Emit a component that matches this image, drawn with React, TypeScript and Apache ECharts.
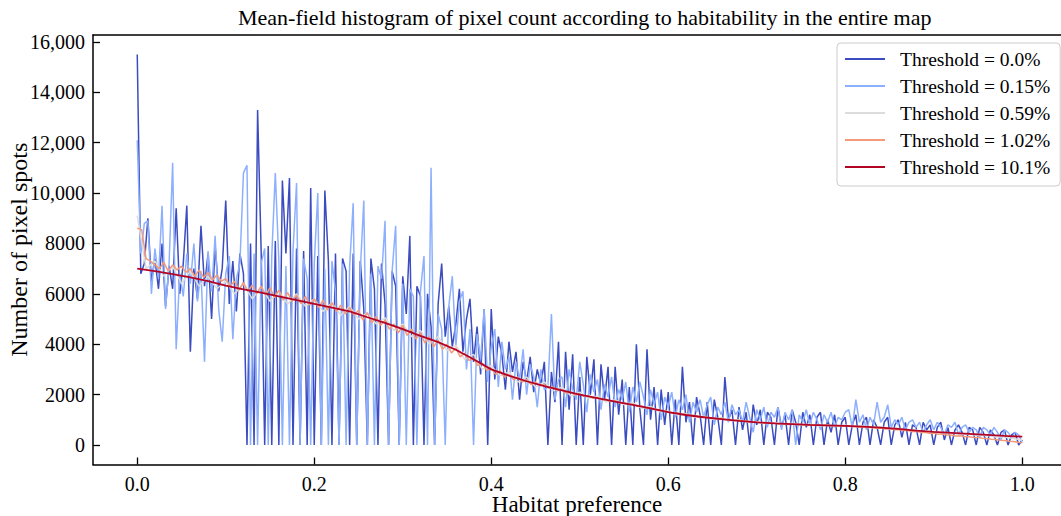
import React, { useEffect, useRef } from "react";
import * as echarts from "echarts";

const TITLE = "Mean-field histogram of pixel count according to habitability in the entire map";
const X_NAME = "Habitat preference";
const Y_NAME = "Number of pixel spots";
const X_TICKS = [0, 0.2, 0.4, 0.6, 0.8, 1.0];
const Y_TICKS = [0, 2000, 4000, 6000, 8000, 10000, 12000, 14000, 16000];
const NAMES = ["Threshold = 0.0%", "Threshold = 0.15%", "Threshold = 0.59%", "Threshold = 1.02%", "Threshold = 10.1%"];
const COLORS = ["#3b4cc0", "#8db0fe", "#dddcdc", "#f49a7b", "#b40426"];

// bin steps (x = index * step)
const STEP_T0 = 0.004;
const STEP_T015 = 0.004;
const STEP_T059 = 0.01;
const STEP_T102 = 0.005;
const STEP_T101 = 0.02;

const T0 = [
  15500, 6800, 7200, 9000, 6500, 7400, 6200, 8000, 5500, 7100,
  6200, 9400, 6000, 7200, 9500, 3700, 7000, 5800, 8700, 6300,
  7600, 5000, 7900, 6100, 7000, 9700, 5600, 7300, 5300, 7600,
  6800, 0, 8000, 0, 13300, 7700, 0, 7900, 0, 8100,
  0, 10500, 7600, 10600, 0, 7800, 0, 7700, 0, 10200,
  0, 7500, 0, 10100, 7300, 0, 7600, 0, 7400, 6900,
  0, 7600, 0, 7300, 5400, 0, 7400, 6200, 0, 7200,
  5600, 0, 6900, 6300, 0, 6700, 5200, 8300, 0, 6300,
  5900, 0, 6000, 4700, 0, 5600, 7200, 4300, 5500, 3900,
  4800, 6200, 3700, 5000, 5800, 3300, 4700, 2800, 5400, 0,
  5400, 2600, 4300, 3600, 2200, 4100, 2900, 3700, 1800, 3300,
  2500, 3500, 2100, 3000, 2400, 3300, 0, 2900, 1700, 4100,
  0, 3700, 1400, 3600, 0, 2700, 0, 3500, 2000, 3400,
  0, 3200, 1800, 3100, 0, 3100, 1200, 2600, 0, 2300,
  0, 4000, 1400, 0, 3800, 1000, 2300, 0, 2200, 800,
  2100, 0, 1800, 0, 3100, 900, 1700, 0, 1900, 1200,
  0, 1700, 0, 1800, 1100, 0, 2700, 1000, 1400, 0,
  1500, 600, 1300, 0, 1600, 800, 1400, 0, 1300, 1100,
  0, 1500, 700, 1200, 0, 1400, 900, 0, 1300, 700,
  1200, 0, 1100, 1300, 0, 1000, 500, 1200, 0, 900,
  1100, 0, 800, 1200, 0, 900, 1100, 0, 1000, 700,
  0, 900, 1100, 0, 800, 1000, 300, 900, 0, 800,
  700, 0, 900, 600, 800, 0, 700, 900, 200, 700,
  0, 600, 800, 500, 0, 700, 600, 0, 700, 500,
  0, 600, 400, 0, 500, 600, 0, 400, 500, 0,
  200,
];

const T015 = [
  12100, 7600, 8800, 8900, 6000, 7800, 6600, 9500, 5400, 7200,
  11200, 3800, 6800, 5900, 7600, 6400, 8000, 5700, 6900, 3300,
  7700, 6100, 8300, 5400, 4100, 6800, 7500, 4200, 6600, 7200,
  10800, 11100, 0, 7600, 0, 7200, 7800, 0, 7500, 10800,
  7300, 0, 7100, 0, 7700, 10400, 0, 7400, 6600, 0,
  7200, 10000, 0, 7000, 0, 7300, 6100, 0, 7200, 0,
  7100, 9600, 0, 6900, 9700, 0, 6800, 0, 7100, 6600,
  8900, 0, 6900, 8700, 0, 6400, 0, 6200, 5900, 0,
  6100, 7500, 0, 11000, 0, 5200, 4600, 0, 5500, 6700,
  3900, 5700, 6100, 3000, 4600, 0, 4400, 3400, 5400, 2500,
  3900, 4600, 2300, 4100, 3000, 3500, 1800, 3300, 2600, 3800,
  2000, 3200, 2700, 1500, 3000, 2200, 2300, 5200, 1800, 2600,
  2700, 1500, 3000, 2200, 1800, 3300, 2400, 1300, 2800, 2100,
  2600, 1400, 2400, 1900, 2700, 1500, 2200, 1800, 2500, 1300,
  2300, 1700, 2500, 1900, 1200, 2200, 1600, 2100, 1000, 1900,
  1500, 2100, 1100, 1800, 1400, 2000, 900, 1700, 1300, 1800,
  1100, 1600, 1900, 800, 1500, 1200, 1700, 900, 1600, 1200,
  1400, 900, 1700, 1100, 500, 1400, 1000, 1500, 700, 1300,
  1100, 1500, 600, 1300, 1000, 1400, 0, 1200, 900, 1400,
  800, 1300, 1000, 600, 1200, 900, 1300, 700, 1100, 1000,
  1300, 1400, 700, 1800, 900, 1200, 600, 1100, 800, 1700,
  900, 1100, 1600, 700, 1000, 800, 1100, 600, 900, 1000,
  700, 900, 500, 800, 1000, 600, 900, 700, 400, 800,
  700, 900, 400, 700, 800, 500, 700, 600, 300, 700,
  600, 400, 700, 500, 200, 600, 500, 300, 500, 400,
  100,
];

const T059 = [
  9100, 7000, 7300, 6700, 7100, 6400, 6900, 6300, 6700, 6200,
  6500, 6000, 6400, 5800, 6300, 5700, 6100, 5600, 6000, 5500,
  5800, 5300, 5650, 5150, 5500, 5000, 5250, 4800, 5050, 4550,
  4800, 4300, 4550, 4000, 4300, 3750, 3950, 3400, 3600, 3000,
  3150, 2750, 2900, 2500, 2700, 2300, 2500, 2150, 2300, 1950,
  2100, 1850, 1950, 1700, 1800, 1600, 1680, 1450, 1530, 1330,
  1350, 1200, 1250, 1100, 1150, 1020, 1080, 950, 1000, 900,
  930, 850, 890, 810, 860, 790, 830, 760, 800, 750,
  790, 720, 760, 680, 720, 640, 660, 580, 590, 520,
  530, 470, 490, 420, 440, 380, 390, 320, 320, 260,
  200,
];

const T102 = [
  8600, 8550, 7400, 7300, 7150, 7000, 7250, 6900, 7150, 6950,
  7100, 6850, 7000, 6700, 6950, 6650, 6850, 6550, 6750, 6500,
  6600, 6300, 6500, 6150, 6450, 6100, 6350, 6000, 6300, 5950,
  6250, 5850, 6150, 5750, 6050, 5700, 5950, 5600, 5900, 5550,
  5800, 5450, 5750, 5350, 5650, 5300, 5550, 5200, 5450, 5150,
  5350, 4950, 5250, 4850, 5100, 4750, 4950, 4600, 4800, 4450,
  4750, 4350, 4600, 4200, 4450, 4050, 4300, 3900, 4150, 3800,
  4000, 3650, 3850, 3500, 3650, 3350, 3450, 3150, 3250, 2950,
  3050, 2800, 2950, 2700, 2800, 2600, 2700, 2500, 2600, 2400,
  2500, 2350, 2400, 2250, 2300, 2150, 2200, 2050, 2100, 1980,
  2020, 1920, 1960, 1850, 1880, 1790, 1820, 1720, 1760, 1660,
  1680, 1600, 1620, 1530, 1550, 1460, 1480, 1400, 1410, 1330,
  1330, 1260, 1280, 1200, 1220, 1160, 1180, 1110, 1130, 1080,
  1080, 1040, 1050, 1000, 1010, 970, 980, 940, 950, 900,
  910, 870, 890, 850, 870, 830, 850, 810, 830, 800,
  820, 790, 800, 770, 790, 760, 780, 750, 770, 740,
  760, 730, 740, 700, 720, 680, 700, 660, 670, 630,
  640, 600, 610, 570, 580, 530, 540, 500, 500, 460,
  470, 430, 440, 400, 400, 360, 370, 330, 330, 300,
  300, 270, 260, 230, 220, 190, 180, 150, 140, 110,
  90,
];

const T101 = [
  7000, 6900, 6780, 6650, 6500, 6330, 6180, 6050, 5900, 5750,
  5600, 5450, 5300, 5070, 4850, 4600, 4330, 4080, 3780, 3400,
  3000, 2750, 2530, 2340, 2170, 2000, 1860, 1720, 1590, 1450,
  1300, 1190, 1100, 1030, 960, 900, 860, 830, 800, 780,
  760, 730, 690, 640, 570, 520, 480, 440, 400, 360,
  330,
];

const FONT = "'Liberation Serif', 'DejaVu Serif', serif";

function pairs(values: number[], step: number) {
  return values.map((v, i) => [Math.round(i * step * 10000) / 10000, v]);
}

export default function App() {
  const ref = useRef<HTMLDivElement>(null);
  useEffect(() => {
    if (!ref.current) return;
    const chart = echarts.init(ref.current, null, { renderer: "svg" });
    const datasets = [
      pairs(T0, STEP_T0),
      pairs(T015, STEP_T015),
      pairs(T059, STEP_T059),
      pairs(T102, STEP_T102),
      pairs(T101, STEP_T101),
    ];
    const xMin = -0.05;
    const xMax = 1.0438;
    chart.setOption({
      animation: false,
      backgroundColor: "#ffffff",
      title: {
        text: TITLE,
        left: 233,
        top: 1,
        textStyle: { fontFamily: FONT, fontSize: 22, fontWeight: "normal", color: "#000" },
      },
      legend: {
        orient: "vertical",
        left: 837,
        top: 43,
        padding: [6, 10, 9, 8],
        itemGap: 7,
        itemWidth: 40,
        itemHeight: 2,
        icon: "rect",
        selectedMode: false,
        backgroundColor: "rgba(255,255,255,0.85)",
        borderColor: "#cccccc",
        borderWidth: 1,
        borderRadius: 4,
        data: NAMES,
        textStyle: { fontFamily: FONT, fontSize: 19.5, color: "#000", padding: [0, 0, 0, 10] },
      },
      grid: { left: 93, right: 0, top: 35, bottom: 51.5, outerBoundsMode: "none", containLabel: false },
      xAxis: [
        {
          type: "value",
          min: xMin,
          max: xMax,
          name: X_NAME,
          nameLocation: "middle",
          nameGap: 28,
          nameMoveOverlap: false,
          nameTextStyle: { fontFamily: FONT, fontSize: 23, color: "#000" },
          axisLine: { show: true, onZero: false, lineStyle: { color: "#000", width: 1.5 } },
          axisTick: { show: true, inside: true, length: 7, customValues: X_TICKS, lineStyle: { color: "#000", width: 1.3 } },
          axisLabel: {
            customValues: X_TICKS,
            margin: 9,
            fontFamily: FONT,
            fontSize: 20,
            color: "#000",
            formatter: (v: number) => v.toFixed(1),
          },
          splitLine: { show: false },
        },
        {
          type: "value",
          position: "top",
          min: xMin,
          max: xMax,
          axisLine: { show: true, onZero: false, lineStyle: { color: "#000", width: 1.5 } },
          axisTick: { show: false },
          axisLabel: { show: false },
          splitLine: { show: false },
        },
      ],
      yAxis: {
        type: "value",
        min: -775,
        max: 16275,
        name: Y_NAME,
        nameLocation: "middle",
        nameGap: 62,
        nameMoveOverlap: false,
        nameTextStyle: { fontFamily: FONT, fontSize: 24, color: "#000" },
        axisLine: { show: true, onZero: false, lineStyle: { color: "#000", width: 1.5 } },
        axisTick: { show: true, inside: true, length: 7, customValues: Y_TICKS, lineStyle: { color: "#000", width: 1.3 } },
        axisLabel: {
          customValues: Y_TICKS,
          margin: 8,
          fontFamily: FONT,
          fontSize: 20,
          color: "#000",
          formatter: (v: number) => (v >= 10000 ? v.toLocaleString("en-US") : String(v)),
        },
        splitLine: { show: false },
      },
      series: datasets.map((d, k) => ({
        name: NAMES[k],
        type: "line",
        data: d,
        symbol: "none",
        showSymbol: false,
        color: COLORS[k],
        lineStyle: { color: COLORS[k], width: k === 4 ? 1.8 : 1.5 },
        z: 2 + k,
      })),
    });
    return () => chart.dispose();
  }, []);
  return <div ref={ref} style={{ position: "fixed", left: 0, top: 0, width: 1061, height: 516 }} />;
}
